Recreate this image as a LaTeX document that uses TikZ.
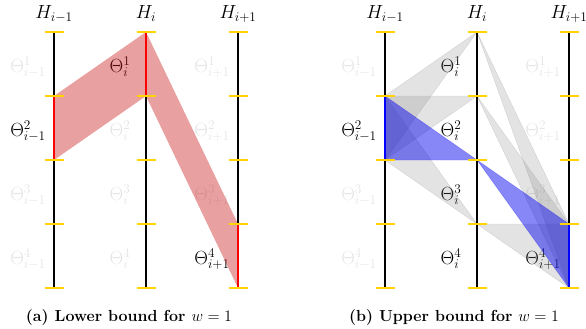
\RequirePackage{fix-cm}
\documentclass[tikz,border=0pt]{standalone}
\usepackage{fontspec}
\definecolor{tickyellow}{RGB}{255,212,0}
\definecolor{fadedtxt}{RGB}{228,228,228}
\definecolor{redfill}{RGB}{200,18,18}
\definecolor{bluefill}{RGB}{0,0,240}
\tikzset{
  hline/.style={line width=2pt, black},
  hilite/.style={line width=2.2pt},
  tickmark/.style={line width=2.2pt, tickyellow},
  lbl/.style={font=\fontsize{19}{23}\selectfont, anchor=base, inner sep=0pt},
  capt/.style={font=\fontsize{16}{19}\selectfont\bfseries, anchor=base, inner sep=0pt},
  grayfan/.style={fill=black!50, fill opacity=0.22, draw=black!40, draw opacity=0.35, line width=0.4pt},
  bluefan/.style={fill=bluefill, fill opacity=0.47, draw=bluefill, draw opacity=0.3, line width=0.4pt},
  redband/.style={fill=redfill, fill opacity=0.4},
}
\begin{document}
\begin{tikzpicture}[x=1pt,y=-1pt]
\useasboundingbox (0,0) rectangle (586,329);
% tick coordinates
\foreach \p/\x in {a/54, b/146, c/238, d/385, e/477, f/569} {
  \foreach \k/\y in {0/32,1/96,2/160,3/224,4/288} {
    \coordinate (\p\k) at (\x,\y);
  }
}
% column headers
\foreach \p/\x/\s in {a/54/{i-1}, b/146/i, c/238/{i+1}, d/385/{i-1}, e/477/i, f/569/{i+1}} {
  \node[lbl] (h\p) at (\x,19) {$H_{\s}$};
}
% Theta labels
\foreach \p/\x/\s/\k/\y/\c in {
  a/54/{i-1}/1/64/fadedtxt, a/54/{i-1}/2/128/black, a/54/{i-1}/3/192/fadedtxt, a/54/{i-1}/4/256/fadedtxt,
  b/146/i/1/64/black, b/146/i/2/128/fadedtxt, b/146/i/3/192/fadedtxt, b/146/i/4/256/fadedtxt,
  c/238/{i+1}/1/64/fadedtxt, c/238/{i+1}/2/128/fadedtxt, c/238/{i+1}/3/192/fadedtxt, c/238/{i+1}/4/256/black,
  d/385/{i-1}/1/64/fadedtxt, d/385/{i-1}/2/128/black, d/385/{i-1}/3/192/fadedtxt, d/385/{i-1}/4/256/fadedtxt,
  e/477/i/1/64/black, e/477/i/2/128/black, e/477/i/3/192/black, e/477/i/4/256/black,
  f/569/{i+1}/1/64/fadedtxt, f/569/{i+1}/2/128/fadedtxt, f/569/{i+1}/3/192/fadedtxt, f/569/{i+1}/4/256/black} {
  \node[lbl, text=\c] (t\p\k) at (\x-26,\y+8) {$\Theta^{\k}_{\s}$};
}
% (a) lower bound band
\fill[redband] (a1) -- (b0) -- (b1) -- (a2) -- cycle;
\fill[redband] (b0) -- (c3) -- (c4) -- (b1) -- cycle;
% (b) upper bound fans
\foreach \q in {e0,e1,e3} {
  \filldraw[grayfan] (\q) -- (d1) -- (d2) -- cycle;
  \filldraw[grayfan] (\q) -- (f3) -- (f4) -- cycle;
}
\filldraw[bluefan] (e2) -- (d1) -- (d2) -- cycle;
\filldraw[bluefan] (e2) -- (f3) -- (f4) -- cycle;
% vertical lines
\foreach \p in {a,b,c,d,e,f} {
  \draw[hline] (\p0) -- (\p4);
}
% highlighted segments
\draw[hilite, red] (a1) -- (a2);
\draw[hilite, red] (b0) -- (b1);
\draw[hilite, red] (c3) -- (c4);
\draw[hilite, blue] (d1) -- (d2);
\draw[hilite, blue] (f3) -- (f4);
% ticks
\foreach \p in {a,b,c,d,e,f} {
  \foreach \k in {0,1,2,3,4} {
    \draw[tickmark] ([xshift=-9.5pt]\p\k) -- ([xshift=9.5pt]\p\k);
  }
}
% captions
\node[capt] (capa) at (129,321) {(a) Lower bound for $w = 1$};
\node[capt] (capb) at (454,321) {(b) Upper bound for $w = 1$};
\end{tikzpicture}
\end{document}
